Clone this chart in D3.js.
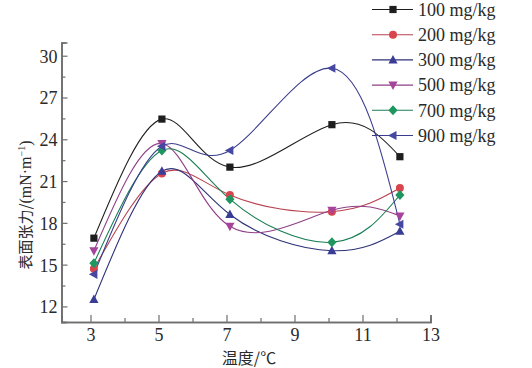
<!DOCTYPE html>
<html><head><meta charset="utf-8">
<script src="https://cdn.jsdelivr.net/npm/d3@7"></script>
<style>body{margin:0;background:#fff}svg{display:block}
.serif{font-family:"Liberation Serif","DejaVu Serif","Times New Roman",serif}
</style>
</head><body>
<svg id="c" width="532" height="368"></svg>
<script>
const temps = [3.1, 5.1, 7.1, 10.1, 12.1];
const seriesNames = ["100 mg/kg","200 mg/kg","300 mg/kg","500 mg/kg","700 mg/kg","900 mg/kg"];
const s100 = [16.9, 25.45, 22.0, 25.05, 22.75];
const s200 = [14.7, 21.55, 20.0, 18.8, 20.5];
const s300 = [12.5, 21.7, 18.6, 16.0, 17.4];
const s500 = [16.0, 23.7, 17.75, 18.9, 18.5];
const s700 = [15.1, 23.2, 19.7, 16.6, 20.0];
const s900 = [14.3, 23.5, 23.2, 29.1, 17.9];
const xTicks = [3,5,7,9,11,13];
const xMinor = [4,6,8,10,12];
const yTicks = [12,15,18,21,24,27,30];
const yMinor = [13.5,16.5,19.5,22.5,25.5,28.5];

const colors = ["#1e1e1e","#d8454c","#3a3d96","#a6439a","#1f9660","#4547a0"];
const lineColors = ["#1e1e1e","#b8424f","#2f3278","#8e3f86","#1a7f55","#3b3d8c"];
const symbols = ["square","circle","up","down","diamond","left"];
const allSeries = [s100,s200,s300,s500,s700,s900];

const svg = d3.select("#c");
const x = d3.scaleLinear().domain([2.147, 13.0]).range([61.5, 430.5]);
const y = d3.scaleLinear().domain([10.88, 30.95]).range([322, 42.5]);

const serif = '"Liberation Serif","DejaVu Serif","Times New Roman",serif';
const axisColor = "#6e6e6e";

// axes
const gx = svg.append("g").attr("transform","translate(0,322)");
gx.call(d3.axisBottom(x).tickValues(xTicks).tickSize(-7).tickPadding(6).tickFormat(d3.format("d")));
const gxm = svg.append("g").attr("transform","translate(0,322)");
gxm.call(d3.axisBottom(x).tickValues(xMinor).tickSize(-4).tickFormat(""));
const gy = svg.append("g").attr("transform","translate(61.5,0)");
gy.call(d3.axisLeft(y).tickValues(yTicks).tickSize(-6).tickPadding(4).tickFormat(d3.format("d")));
const gym = svg.append("g").attr("transform","translate(61.5,0)");
gym.call(d3.axisLeft(y).tickValues(yMinor).tickSize(-4).tickFormat(""));
[gx,gxm,gy,gym].forEach(g=>{
  g.attr("font-family",serif).attr("font-size",18);
  g.selectAll(".domain").attr("stroke",axisColor).attr("stroke-width",1.6);
  g.selectAll(".tick line").attr("stroke",axisColor).attr("stroke-width",1.2);
  g.selectAll("text").attr("fill","#2a2a2a").attr("class","serif").attr("font-family",serif).attr("font-size",18);
});
gy.selectAll("text").attr("dy","0.36em");

// titles
svg.append("text").attr("x",249).attr("y",364).attr("text-anchor","middle")
  .attr("font-family","'Noto Sans CJK SC'").attr("font-size",16).attr("fill","#2a2a2a")
  .text("温度/℃");
const yt = svg.append("text").attr("transform","translate(31,205) rotate(-90)").attr("text-anchor","middle")
  .attr("font-family","'Noto Sans CJK SC'").attr("font-size",15).attr("fill","#2a2a2a");
yt.append("tspan").text("表面张力/");
yt.append("tspan").attr("font-family",serif).attr("font-size",16).text("(mN·m");
yt.append("tspan").attr("dy","-6").attr("font-family",serif).attr("font-size",10).text("−1");
yt.append("tspan").attr("dy","6").attr("font-family",serif).attr("font-size",16).text(")");

function marker(g, type, cx, cy, col){
  let p;
  if(type==="square") p = g.append("rect").attr("x",cx-3.6).attr("y",cy-3.6).attr("width",7.2).attr("height",7.2);
  else if(type==="circle") p = g.append("circle").attr("cx",cx).attr("cy",cy).attr("r",4);
  else {
    let pts;
    if(type==="up") pts=[[0,-5],[4.6,3.5],[-4.6,3.5]];
    else if(type==="down") pts=[[0,5],[4.6,-3.5],[-4.6,-3.5]];
    else if(type==="diamond") pts=[[0,-5],[4.6,0],[0,5],[-4.6,0]];
    else pts=[[-5,0],[3.5,-4.6],[3.5,4.6]];
    p = g.append("polygon").attr("points",pts.map(q=>[cx+q[0],cy+q[1]].join(",")).join(" "));
  }
  p.attr("fill",col);
}

const line = d3.line().curve(d3.curveNatural).x(d=>x(d[0])).y(d=>y(d[1]));
allSeries.forEach((vals,i)=>{
  const pts = temps.map((t,j)=>[t,vals[j]]);
  svg.append("path").attr("d",line(pts)).attr("fill","none").attr("stroke",lineColors[i]).attr("stroke-width",1.1);
});
allSeries.forEach((vals,i)=>{
  const g = svg.append("g");
  temps.forEach((t,j)=>marker(g, symbols[i], x(t), y(vals[j]), colors[i]));
});

// legend
seriesNames.forEach((n,i)=>{
  const ly = 9.5 + i*25.2;
  const g = svg.append("g");
  g.append("line").attr("x1",372).attr("x2",413).attr("y1",ly).attr("y2",ly).attr("stroke",lineColors[i]).attr("stroke-width",1.1);
  marker(g, symbols[i], 393, ly, colors[i]);
  g.append("text").attr("x",418).attr("y",ly).attr("dy","0.35em").attr("class","serif")
    .attr("font-family",serif).attr("font-size",18).attr("fill","#2a2a2a").text(n);
});
</script>
</body></html>
